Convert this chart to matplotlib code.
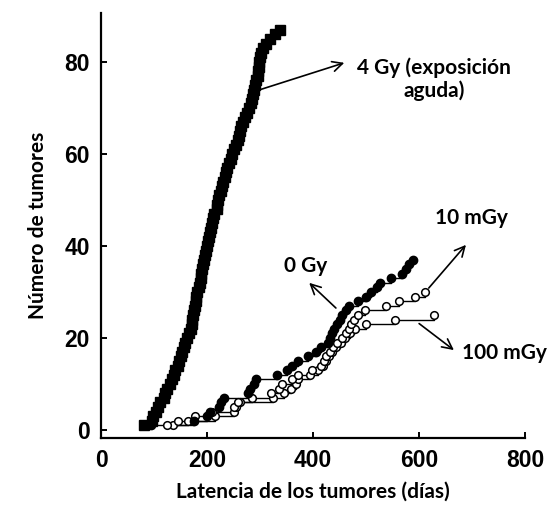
import matplotlib
matplotlib.use("Agg")
import matplotlib.pyplot as plt

# latency (days) of each tumour, in order of appearance (count = 1, 2, 3 ...)
dias_4gy = [82, 96, 99, 104, 108, 111, 118, 120, 125, 130,
            134, 138, 140, 145, 148, 150, 153, 156, 158, 162,
            166, 170, 171, 172, 173, 175, 177, 179, 180, 182,
            184, 187, 188, 189, 190, 192, 194, 196, 199, 200,
            202, 203, 205, 207, 209, 212, 214, 218, 219, 220,
            223, 226, 228, 231, 234, 236, 238, 242, 245, 247,
            250, 255, 259, 261, 263, 265, 268, 272, 276, 280,
            283, 285, 287, 288, 290, 293, 296, 297, 298, 299,
            300, 302, 306, 312, 318, 328, 337]
dias_0gy = [95, 175, 200, 205, 222, 226, 232, 278, 282, 288,
            292, 332, 350, 360, 372, 390, 405, 415, 428, 432,
            436, 440, 446, 450, 455, 462, 468, 485, 500, 510,
            520, 526, 548, 568, 575, 582, 588]
dias_10mgy = [125, 145, 178, 210, 250, 258, 285, 320, 335, 342,
              360, 372, 398, 415, 420, 425, 432, 438, 445, 455,
              462, 468, 472, 478, 485, 498, 538, 562, 592, 612]
dias_100mgy = [135, 165, 215, 250, 255, 262, 325, 345, 358, 368,
               372, 395, 410, 418, 424, 430, 436, 444, 452, 460,
               470, 480, 500, 555, 628]

xticks = [0, 200, 400, 600, 800]
yticks = [0, 20, 40, 60, 80]

txt_font = ["Lato", "DejaVu Sans"]
tick_font = "Liberation Sans"

fig = plt.figure(figsize=(5.59, 5.11), dpi=100)
ax = fig.add_axes([0.1807, 0.1429, 0.7585, 0.8317])


def curva(dias, **kw):
    n = list(range(1, len(dias) + 1))
    ax.step(dias, n, where="post", color="black", lw=1.0, zorder=2)
    ax.plot(dias, n, ls="none", zorder=3, **kw)


curva(dias_100mgy, marker="o", ms=5.5, mfc="white", mec="black", mew=1.1)
curva(dias_10mgy, marker="o", ms=5.5, mfc="white", mec="black", mew=1.1)
curva(dias_0gy, marker="o", ms=6, mfc="black", mec="black")
curva(dias_4gy, marker="s", ms=6.5, mfc="black", mec="black")

ax.set_xlim(0, 800)
ax.set_ylim(-1.74, 90.65)
ax.set_xticks(xticks)
ax.set_yticks(yticks)
ax.spines["top"].set_visible(False)
ax.spines["right"].set_visible(False)
ax.spines["left"].set_linewidth(1.6)
ax.spines["bottom"].set_linewidth(1.6)
ax.tick_params(direction="in", length=4, width=1.4, pad=8)
for lab in ax.get_xticklabels() + ax.get_yticklabels():
    lab.set_fontfamily(tick_font)
    lab.set_fontweight("bold")
    lab.set_fontsize(16.5)

ax.set_xlabel("Latencia de los tumores (días)", family=txt_font,
              fontweight="bold", fontsize=15, labelpad=7)
ax.set_ylabel("Número de tumores", family=txt_font,
              fontweight="bold", fontsize=15, labelpad=12)

flecha = dict(arrowstyle="->", color="black", lw=1.2, mutation_scale=18)

# 4 Gy
ax.annotate("", xy=(464, 80), xytext=(287, 73.5), arrowprops=flecha)
ax.text(628, 76.3, "4 Gy (exposición\naguda)", family=txt_font,
        fontweight="bold", fontsize=15, ha="center", va="center",
        linespacing=1.15)
# 0 Gy
ax.annotate("", xy=(389, 32.4), xytext=(447, 26.1), arrowprops=flecha)
ax.text(387, 35.6, "0 Gy", family=txt_font, fontweight="bold",
        fontsize=15, ha="center", va="center")
# 10 mGy
ax.annotate("", xy=(692, 40.7), xytext=(615, 30.4), arrowprops=flecha)
ax.text(698, 46.1, "10 mGy", family=txt_font, fontweight="bold",
        fontsize=15, ha="center", va="center")
# 100 mGy
ax.annotate("", xy=(670, 17), xytext=(596, 23.5), arrowprops=flecha)
ax.text(762, 16.7, "100 mGy", family=txt_font, fontweight="bold",
        fontsize=15, ha="center", va="center", clip_on=False)

fig.savefig("out.png", dpi=100)
